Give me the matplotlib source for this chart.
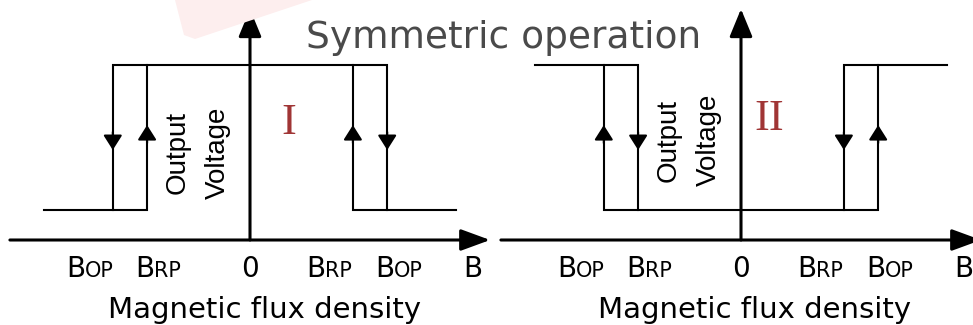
import matplotlib
matplotlib.use("Agg")
import matplotlib.pyplot as plt
from matplotlib.patches import Polygon

# Hysteresis thresholds (arbitrary field units) and output levels
B_OP = 4.0
B_RP = 3.0
V_LOW = 1.0
V_HIGH = 5.83

# Panel I: output high between the thresholds, low outside
panel_I_paths = [
    ([-6, -3, -3], [V_LOW, V_LOW, V_HIGH]),
    ([-4, -4, 4, 4], [V_LOW, V_HIGH, V_HIGH, V_LOW]),
    ([3, 3, 6], [V_HIGH, V_LOW, V_LOW]),
]
# direction of travel on each vertical edge (x, +1 up / -1 down)
panel_I_dirs = [(-4, -1), (-3, 1), (3, 1), (4, -1)]

# Panel II: inverted output
panel_II_paths = [
    ([-6, -3, -3], [V_HIGH, V_HIGH, V_LOW]),
    ([-4, -4, 4, 4], [V_HIGH, V_LOW, V_LOW, V_HIGH]),
    ([3, 3, 6], [V_LOW, V_HIGH, V_HIGH]),
]
panel_II_dirs = [(-4, 1), (-3, -1), (3, -1), (4, 1)]

tick_main = ["B", "B", "0", "B", "B", "B"]
tick_sub = ["OP", "RP", "", "RP", "OP", ""]
tick_pos = [-B_OP - 0.5, -B_RP + 0.5, 0, B_RP - 0.5, B_OP + 0.5, 6.5]

W, H = 973, 325
U = 34.3   # px per x unit
V = 30.0   # px per y unit

fig = plt.figure(figsize=(W / 100, H / 100), dpi=100)

# faint pink watermark shape in the top left
fig.patches.append(Polygon([(175 / W, 1), (184 / W, 1 - 35 / H), (195 / W, 1 - 39 / H), (312 / W, 1)],
                           closed=True, transform=fig.transFigure, facecolor="#fdeeee",
                           edgecolor="none", zorder=0))

sans = "DejaVu Sans"


def draw_panel(ax, paths, dirs, numeral, num_xy, ov_xy, mag_x):
    ax.set_ylim(-85 / V, 240 / V)
    ax.axis("off")
    ax.patch.set_alpha(0)

    # axes with arrow heads
    ax.annotate("", xy=(7, 0), xytext=(-7, 0), annotation_clip=False,
                arrowprops=dict(arrowstyle="-|>,head_length=0.9,head_width=0.33",
                                mutation_scale=20, lw=2.2, color="k",
                                shrinkA=0, shrinkB=0))
    ax.annotate("", xy=(0, 7.7), xytext=(0, 0), annotation_clip=False,
                arrowprops=dict(arrowstyle="-|>,head_length=0.85,head_width=0.35",
                                mutation_scale=20, lw=2.2, color="k",
                                shrinkA=0, shrinkB=0))

    for xs, ys in paths:
        ax.plot(xs, ys, color="k", lw=1.5, solid_joinstyle="miter")

    for x, d in dirs:
        tip = 3.83 if d > 0 else 3.0
        ax.annotate("", xy=(x, tip), xytext=(x, tip - d * 0.6),
                    arrowprops=dict(arrowstyle="-|>,head_length=0.6,head_width=0.38",
                                    mutation_scale=15, lw=1.5, color="k",
                                    shrinkA=0, shrinkB=0))

    # tick labels
    for main, sub, x in zip(tick_main, tick_sub, tick_pos):
        if sub:
            ax.text(x - 0.3, -1.23, main, ha="right", va="baseline",
                    fontsize=20, family=sans, clip_on=False)
            ax.text(x - 0.3, -1.23, sub, ha="left", va="baseline",
                    fontsize=15, family=sans, clip_on=False)
        else:
            ax.text(x, -1.23, main, ha="center", va="baseline",
                    fontsize=20, family=sans, clip_on=False)

    ax.text(mag_x, -2.6, "Magnetic flux density", ha="center", va="baseline",
            fontsize=21, family=sans)
    ax.text(ov_xy[0], ov_xy[1], "Output\nVoltage", rotation=90, ha="center",
            va="center", fontsize=20, family="Liberation Sans", linespacing=1.7)
    ax.text(num_xy[0], num_xy[1], numeral, ha="center", va="center",
            fontsize=32, family="Liberation Serif", color="#a03535")


ax1 = fig.add_axes([0, 0, 486 / W, 1])
ax1.set_xlim(-250 / U, (486 - 250) / U)
draw_panel(ax1, panel_I_paths, panel_I_dirs, "I", (1.14, 3.9), (-1.52, 2.9), 0.42)

ax2 = fig.add_axes([486 / W, 0, (W - 486) / W, 1])
ax2.set_xlim(-(741 - 486) / U, (W - 741) / U)
draw_panel(ax2, panel_II_paths, panel_II_dirs, "II", (0.82, 4.03), (-1.52, 3.33), 0.39)

fig.text(504 / W, 1 - 48 / H, "Symmetric operation", ha="center", va="baseline",
         fontsize=27, family="DejaVu Sans", color="#4a4a4a")

fig.savefig("out.png", dpi=100)
